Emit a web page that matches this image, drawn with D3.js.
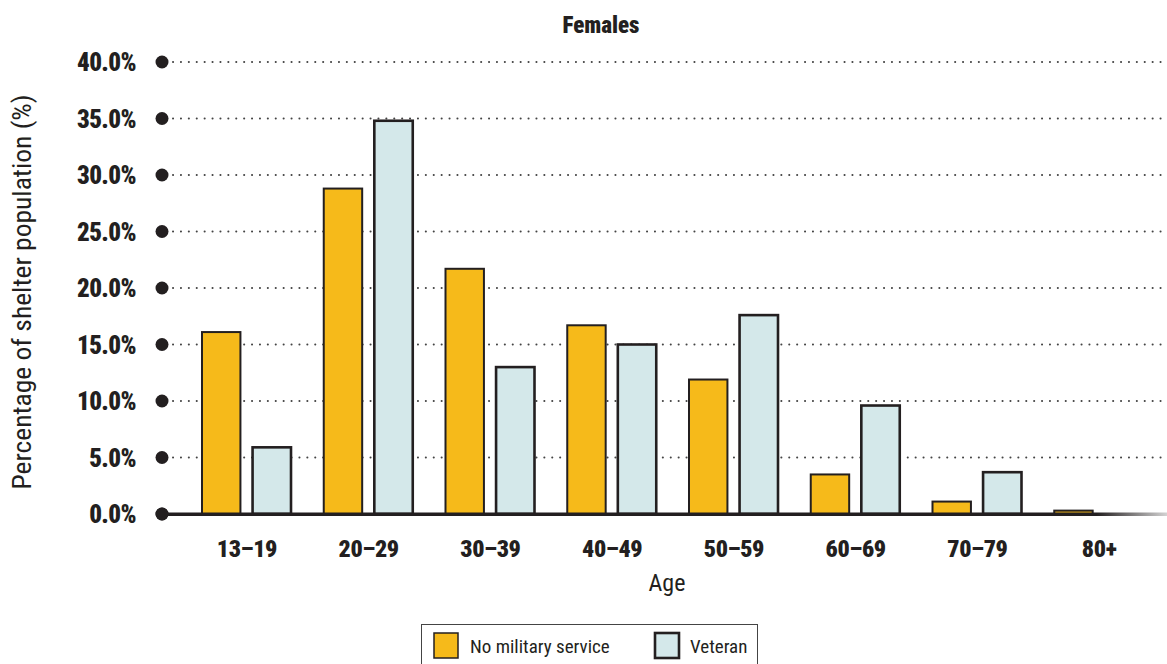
<!DOCTYPE html>
<html><head><meta charset="utf-8">
<script src="https://cdn.jsdelivr.net/npm/d3@7"></script>
<style>
body{margin:0;background:#fff;}
svg{display:block;}
.cond{font-family:"Liberation Sans Narrow","Roboto Condensed","Arial Narrow",Roboto,sans-serif;}
</style></head>
<body>
<svg id="chart" width="1167" height="664"></svg>
<script>
const categories = ["13–19","20–29","30–39","40–49","50–59","60–69","70–79","80+"];
const noMilitary = [16.1, 28.8, 21.7, 16.7, 11.9, 3.5, 1.1, 0.3];
const veteran = [5.9, 34.8, 13.0, 15.0, 17.6, 9.6, 3.7, 0.0];
const seriesNames = ["No military service","Veteran"];
const yTicks = [0,5,10,15,20,25,30,35,40];
const title = "Females";
const xTitle = "Age";
const yTitle = "Percentage of shelter population (%)";

const colors = {"No military service":"#F6BA1A","Veteran":"#D4E8EA"};
const stroke = "#231F20";

const svg = d3.select("#chart");
const x = d3.scaleBand().domain(categories).range([186,1160]).paddingInner(0).paddingOuter(0);
const xs = d3.scaleBand().domain(seriesNames).range([16, 105]).paddingInner(0.24);
const y = d3.scaleLinear().domain([0,40]).range([514,62]);

// gridlines
svg.append("g").selectAll("line").data(yTicks.filter(d=>d>0)).join("line")
  .attr("x1",173).attr("x2",1165)
  .attr("y1",d=>y(d)).attr("y2",d=>y(d))
  .attr("stroke","#444").attr("stroke-width",2)
  .attr("stroke-dasharray","0.1 7.8").attr("stroke-linecap","round");

// y axis tick dots and labels
const yg = svg.append("g");
yg.selectAll("circle").data(yTicks).join("circle")
  .attr("cx",162).attr("cy",d=>y(d)).attr("r",6.5).attr("fill",stroke);
yg.selectAll("text").data(yTicks).join("text").attr("class","cond")
  .attr("x",136).attr("y",d=>y(d)).attr("dy","0.36em")
  .attr("text-anchor","end").attr("font-weight",900).attr("font-size",25)
  .attr("letter-spacing",-0.6)
  .attr("fill","#231F20").text(d=>d.toFixed(1)+"%");

// bars
const data = categories.map((c,i)=>({cat:c, vals:[{s:seriesNames[0],v:noMilitary[i]},{s:seriesNames[1],v:veteran[i]}]}));
const groups = svg.append("g").selectAll("g").data(data).join("g")
  .attr("transform",d=>`translate(${x(d.cat)},0)`);
groups.selectAll("rect").data(d=>d.vals.filter(v=>v.v>0)).join("rect")
  .attr("x",d=>xs(d.s)).attr("width",xs.bandwidth())
  .attr("y",d=>y(d.v)).attr("height",d=>y(0)-y(d.v))
  .attr("fill",d=>colors[d.s]).attr("stroke",stroke)
  .attr("stroke-width",d=>d.s==="Veteran"?2.6:2);

// baseline with fade
const defs = svg.append("defs");
const grad = defs.append("linearGradient").attr("id","fade").attr("x1","0").attr("x2","1");
grad.append("stop").attr("offset","0").attr("stop-color",stroke);
grad.append("stop").attr("offset","0.93").attr("stop-color",stroke);
grad.append("stop").attr("offset","1").attr("stop-color",stroke).attr("stop-opacity",0.2);
svg.append("rect").attr("x",162).attr("y",y(0)-1.5).attr("width",1005).attr("height",3.5).attr("fill","url(#fade)");
svg.append("circle").attr("cx",162).attr("cy",y(0)).attr("r",6.5).attr("fill",stroke);

// x labels
svg.append("g").selectAll("text").data(categories).join("text").attr("class","cond")
  .attr("x",d=>x(d)+x.bandwidth()/2).attr("y",557)
  .attr("text-anchor","middle").attr("font-weight",900).attr("font-size",24)
  .attr("letter-spacing",-0.3)
  .attr("fill","#231F20").text(d=>d);

// titles
svg.append("text").attr("class","cond").attr("x",601).attr("y",33)
  .attr("text-anchor","middle").attr("font-weight",900).attr("font-size",23)
  .attr("fill","#231F20").text(title);
svg.append("text").attr("class","cond").attr("x",667).attr("y",591)
  .attr("text-anchor","middle").attr("font-size",24).attr("fill","#231F20").text(xTitle);
svg.append("text").attr("class","cond")
  .attr("transform","translate(31,292) rotate(-90)")
  .attr("text-anchor","middle").attr("font-size",26)
  .attr("textLength",395).attr("lengthAdjust","spacingAndGlyphs")
  .attr("fill","#231F20").text(yTitle);

// legend
const lg = svg.append("g");
lg.append("rect").attr("x",421.5).attr("y",624.5).attr("width",336).attr("height",45)
  .attr("fill","#fff").attr("stroke","#444").attr("stroke-width",1);
const legendItems = [{s:seriesNames[0],x:434,tx:470},{s:seriesNames[1],x:655,tx:690}];
legendItems.forEach(it=>{
  lg.append("rect").attr("x",it.x).attr("y",633).attr("width",24).attr("height",25)
    .attr("fill",colors[it.s]).attr("stroke",stroke).attr("stroke-width",it.s==="Veteran"?2.6:1.5);
  lg.append("text").attr("class","cond").attr("x",it.tx).attr("y",646).attr("dy","0.36em")
    .attr("font-size",19).attr("fill","#231F20").text(it.s);
});
</script>
</body></html>
